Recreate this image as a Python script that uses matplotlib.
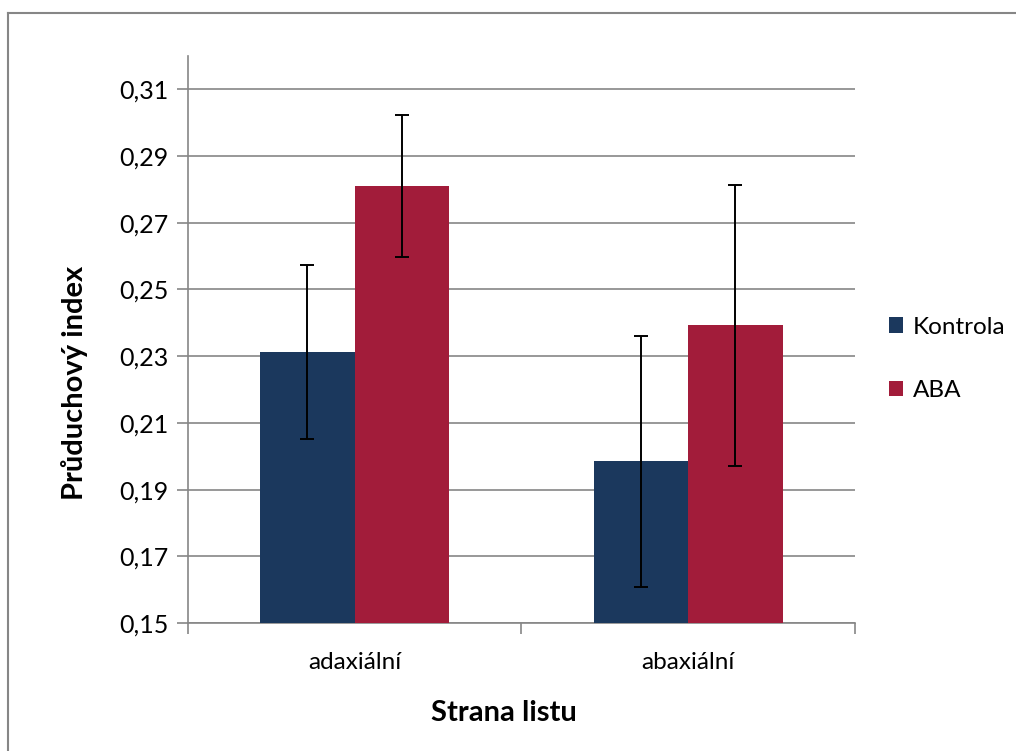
import numpy as np
import matplotlib.pyplot as plt
from matplotlib.lines import Line2D

# data
categories = ["adaxiální", "abaxiální"]
kontrola = [0.2312, 0.1985]
kontrola_err = [0.0260, 0.0376]
aba = [0.2810, 0.2393]
aba_err = [0.0214, 0.0421]
yticks = [0.15, 0.17, 0.19, 0.21, 0.23, 0.25, 0.27, 0.29, 0.31]

plt.rcParams['font.family'] = ['Lato', 'DejaVu Sans']

fig = plt.figure(figsize=(10.16, 7.51), dpi=100)
ax = fig.add_axes([0.185, 0.1704, 0.6565, 0.755])

x = np.arange(len(categories))
w = 0.2834
c_k, c_a = '#1B385D', '#A21C3A'
ax.bar(x - w/2, kontrola, w, color=c_k, label='Kontrola', zorder=3)
ax.bar(x + w/2, aba, w, color=c_a, label='ABA', zorder=3)
ekw = dict(fmt='none', ecolor='black', elinewidth=1.4, capsize=5, capthick=1.4, zorder=4)
ax.errorbar(x - w/2, kontrola, yerr=kontrola_err, **ekw)
ax.errorbar(x + w/2, aba, yerr=aba_err, **ekw)

ax.set_xlim(-0.5, 1.5)
ax.set_ylim(0.15, 0.32)
ax.set_yticks(yticks)
ax.set_yticklabels([f"{v:.2f}".replace('.', ',') for v in yticks])
ax.set_xticks([-0.5, 0.5, 1.5])
ax.set_xticklabels([])
ax.set_xticks(x, minor=True)
ax.set_xticklabels(categories, minor=True)
ax.tick_params(axis='x', which='minor', length=0, pad=21, labelsize=17.5)
ax.tick_params(axis='x', which='major', length=8, color='#868686', width=1.2)
ax.tick_params(axis='y', length=8, color='#868686', width=1.2, labelsize=18, pad=6)

ax.grid(axis='y', color='#868686', linewidth=1.2, zorder=0)
for s in ['top', 'right']:
    ax.spines[s].set_visible(False)
for s in ['left', 'bottom']:
    ax.spines[s].set_color('#868686')
    ax.spines[s].set_linewidth(1.2)

fig.text(75/1016, 1 - 383/751, "Průduchový index", rotation=90, ha='center', va='center',
         fontsize=21, fontweight='bold')
fig.text(504/1016, 1 - 713/751, "Strana listu", ha='center', va='center',
         fontsize=21, fontweight='bold')

fig.legend(loc='upper left', bbox_to_anchor=(879/1016, 1 - 307/751), frameon=False,
           fontsize=17.5, handlelength=0.6, handleheight=0.6, handletextpad=0.4,
           labelspacing=1.75, borderaxespad=0)

# chart border
fig.add_artist(Line2D([8/1016, 8/1016], [0, 1 - 13/751], color='#868686', linewidth=1.5))
fig.add_artist(Line2D([8/1016, 1], [1 - 13/751, 1 - 13/751], color='#868686', linewidth=1.5))

fig.savefig('out.png', dpi=100)
